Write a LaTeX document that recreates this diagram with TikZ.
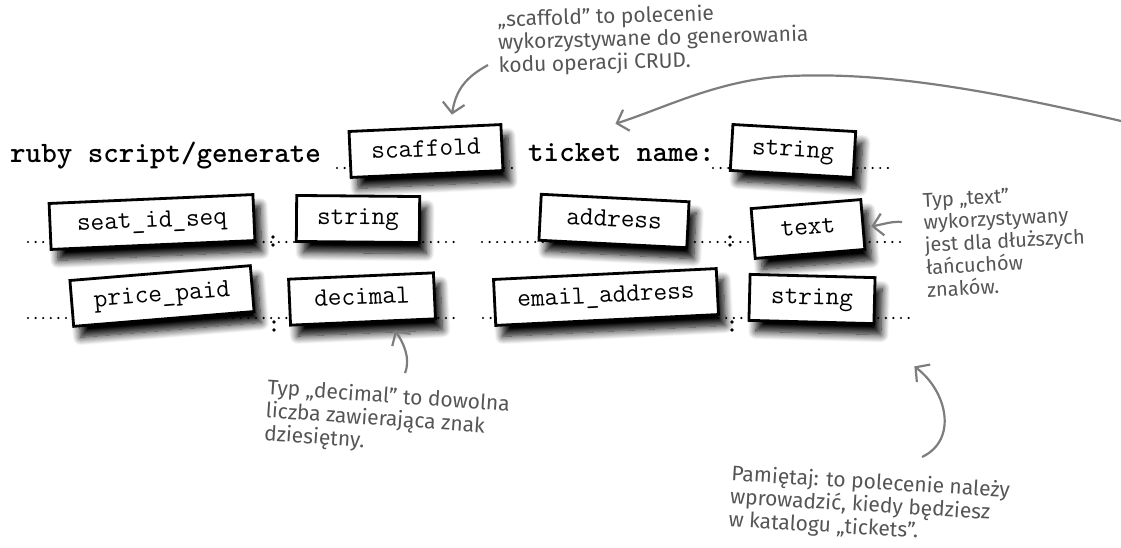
\documentclass[tikz,border=0pt]{standalone}
\usepackage{fontspec}
\newfontfamily\handfont{Fira Sans}
\usetikzlibrary{arrows.meta,shadows.blur}
\definecolor{notegray}{RGB}{85,85,85}
\definecolor{arrowgray}{RGB}{125,125,125}
\tikzset{
  field/.style={draw=black, line width=2.8pt, fill=white, minimum height=46pt,
    font=\ttfamily\fontsize{26.5}{26.5}\selectfont, inner sep=0pt,
    text height=14pt, text depth=3pt,
    blur shadow={shadow xshift=7pt, shadow yshift=-11pt, shadow blur radius=8pt,
      shadow blur steps=10, shadow opacity=100}},
  cmd/.style={font=\ttfamily\bfseries\fontsize{29.6}{30}\selectfont, inner sep=0pt, anchor=base west},
  note/.style={font=\handfont\fontsize{21}{23}\selectfont, text=notegray, align=left,
    inner sep=0pt, anchor=north west},
  dotline/.style={line width=2.4pt, line cap=round, dash pattern=on 0pt off 7.6pt},
  notearrow/.style={arrowgray, line width=2.2pt, -{Straight Barb[length=10pt,width=22pt]}}
}
\begin{document}
\begin{tikzpicture}[x=1pt,y=-1pt]
  \useasboundingbox (0,0) rectangle (1121,547);

  % dotted guide lines
  \coordinate (r1a) at (337,168); \coordinate (r1b) at (515,168);
  \coordinate (r1c) at (713,168); \coordinate (r1d) at (892,168);
  \coordinate (r2a) at (28,242);  \coordinate (r2b) at (457,242);
  \coordinate (r2c) at (482,242); \coordinate (r2d) at (900,242);
  \coordinate (r3a) at (28,318);  \coordinate (r3b) at (457,318);
  \coordinate (r3c) at (483,318); \coordinate (r3d) at (912,318);
  \foreach \a/\b in {r1a/r1b, r1c/r1d, r2a/r2b, r2c/r2d, r3a/r3b, r3c/r3d}
    \draw[dotline] (\a) -- (\b);

  % colons between name and type
  \foreach \x/\y in {273/237, 273/245, 730/237, 730/245, 274/322, 274/330, 732/322, 732/330}
    \fill (\x,\y) circle (1.9pt);

  % command line
  \node[cmd] (rsg) at (10,162) {ruby script/generate};
  \node[field, minimum width=152pt, rotate=2.6] (scaf) at (426,151) {scaffold};
  \node[cmd] (tkt) at (528,161) {ticket name:};
  \node[field, minimum width=123pt, rotate=-3.3] (str1) at (793,151) {string};

  \node[field, minimum width=204pt, rotate=2.5] (seat) at (152,222) {seat\_id\_seq};
  \node[field, minimum width=123pt, rotate=-0.5] (str2) at (358,219) {string};
  \node[field, minimum width=148pt, rotate=-2.9] (addr) at (614,221) {address};
  \node[field, minimum width=110pt, minimum height=50pt, rotate=4.7] (txt) at (808,229) {text};

  \node[field, minimum width=181pt, rotate=4.7] (price) at (162,296) {price\_paid};
  \node[field, minimum width=145pt, rotate=2.5] (dec) at (362,299) {decimal};
  \node[field, minimum width=223pt, rotate=2.8] (email) at (606,297) {email\_address};
  \node[field, minimum width=125pt, rotate=-1.5] (str3) at (812,299) {string};

  % notes
  \node[note, rotate=1.6] (scnote) at (497,10) {„scaffold” to polecenie\\wykorzystywane do generowania\\kodu operacji CRUD.};
  \node[note, rotate=3, font=\handfont\fontsize{20}{22.5}\selectfont] (txtnote) at (922,192) {Typ „text”\\wykorzystywany\\jest dla dłuższych\\łańcuchów\\znaków.};
  \node[note, rotate=-4] (decnote) at (268,378) {Typ „decimal” to dowolna\\liczba zawierająca znak\\dziesiętny.};
  \node[note, rotate=-3.5] (pamnote) at (732,464) {Pamiętaj: to polecenie należy\\wprowadzić, kiedy będziesz\\w katalogu „tickets”.};

  % arrows
  \coordinate (edge) at (1121,121);
  \draw[notearrow] ([xshift=-9pt,yshift=-55pt]scnote.north west) .. controls +(-22,12) and +(4,-25) .. ([xshift=27pt,yshift=12pt]scaf.north);
  \draw[notearrow] (edge) .. controls (980,88) and (880,72) .. (790,76) .. controls (720,79) and (665,108) .. ([xshift=-6pt,yshift=19pt]tkt.north);
  \draw[notearrow] ([xshift=-20pt,yshift=-30pt]txtnote.north west) .. controls +(-10,-1) and +(12,-2) .. ([xshift=7pt,yshift=-2pt]txt.east);
  \draw[notearrow] ([xshift=137pt,yshift=5pt]decnote.north west) .. controls +(6,-15) and +(8,12) .. ([xshift=32pt,yshift=-7pt]dec.south);
  \draw[notearrow] ([xshift=190pt,yshift=7pt]pamnote.north west) .. controls +(36,-17) and +(33,25) .. ([xshift=103pt,yshift=-43pt]str3.south);
\end{tikzpicture}
\end{document}
